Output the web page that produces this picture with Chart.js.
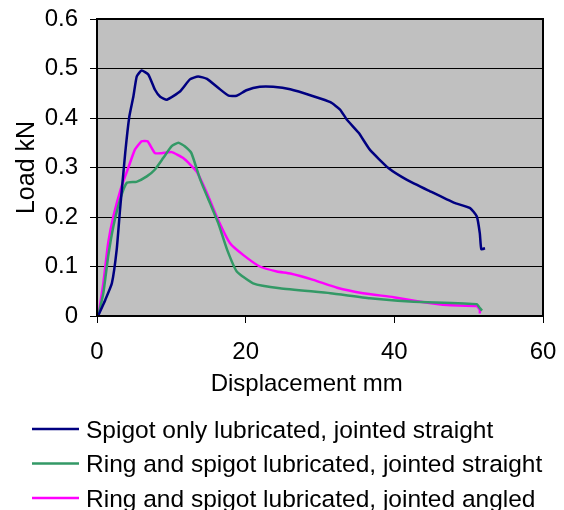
<!DOCTYPE html>
<html>
<head>
<meta charset="utf-8">
<script src="https://cdn.jsdelivr.net/npm/chart.js@4/dist/chart.umd.min.js"></script>
<style>
  html, body { margin: 0; padding: 0; background: #fff; }
  #wrap { width: 564px; height: 510px; position: relative; }
</style>
</head>
<body>
<div id="wrap"><canvas id="loadchart"></canvas></div>
<script>
// series names
const seriesNames = [
  'Spigot only lubricated, jointed straight',
  'Ring and spigot lubricated, jointed straight',
  'Ring and spigot lubricated, jointed angled'
];

// displacement (mm) / load (kN)
const spigotX = [0.2, 1.1, 2.0, 2.65, 3.1, 3.8, 4.35, 4.9, 5.35, 6.0, 6.9, 7.8, 8.5, 9.4, 11.2, 12.5, 13.6, 14.8, 16.3, 17.7, 18.8, 20.1, 21.9, 23.7, 26.0, 29.1, 31.4, 32.7, 33.6, 35.2, 36.7, 39.2, 41.7, 44.8, 48.0, 50.2, 51.1, 51.5, 51.7, 52.2];
const spigotY = [0.002, 0.032, 0.066, 0.134, 0.215, 0.33, 0.403, 0.444, 0.484, 0.496, 0.488, 0.457, 0.443, 0.437, 0.454, 0.478, 0.484, 0.479, 0.461, 0.445, 0.445, 0.456, 0.463, 0.463, 0.458, 0.444, 0.432, 0.417, 0.397, 0.370, 0.336, 0.299, 0.275, 0.252, 0.229, 0.218, 0.201, 0.167, 0.135, 0.137];

const ringX = [0.2, 0.85, 1.5, 2.2, 3.1, 4.0, 5.3, 6.7, 7.8, 8.9, 10.05, 10.95, 11.8, 12.7, 13.9, 15.2, 16.3, 17.5, 18.8, 21.0, 24.6, 31.4, 36.7, 42.6, 51.1, 51.5, 51.8];
const ringY = [0.002, 0.046, 0.12, 0.181, 0.235, 0.269, 0.271, 0.282, 0.296, 0.319, 0.343, 0.35, 0.343, 0.329, 0.275, 0.228, 0.188, 0.134, 0.09, 0.066, 0.056, 0.046, 0.036, 0.029, 0.024, 0.016, 0.011];

const angledX = [0.2, 0.85, 1.5, 2.2, 3.3, 4.2, 5.1, 6.0, 6.8, 7.8, 8.7, 10.05, 11.6, 13.4, 14.8, 16.3, 17.9, 19.7, 21.9, 24.2, 26.0, 29.1, 32.3, 35.8, 39.9, 43.5, 47.1, 51.1, 51.5, 51.5];
const angledY = [0.002, 0.066, 0.147, 0.201, 0.262, 0.299, 0.336, 0.353, 0.353, 0.329, 0.329, 0.331, 0.319, 0.292, 0.248, 0.194, 0.147, 0.123, 0.100, 0.090, 0.086, 0.073, 0.057, 0.046, 0.038, 0.029, 0.022, 0.020, 0.012, 0.005];

const colors = ['#000080', '#339966', '#FF00FF'];

function toPoints(xs, ys) {
  return xs.map((x, i) => ({ x: x, y: ys[i] }));
}

const FONT = 'Liberation Sans, Arial, sans-serif';

// grey plot area + black frame
const plotFrame = {
  id: 'plotFrame',
  beforeDraw(chart) {
    const { ctx, chartArea: a } = chart;
    ctx.save();
    ctx.fillStyle = '#C0C0C0';
    ctx.fillRect(a.left, a.top, a.right - a.left, a.bottom - a.top);
    ctx.restore();
  },
  afterDraw(chart) {
    const { ctx, chartArea: a } = chart;
    ctx.save();
    ctx.strokeStyle = '#000';
    ctx.lineWidth = 2;
    ctx.strokeRect(a.left, a.top, a.right - a.left, a.bottom - a.top);
    ctx.restore();
  }
};

// legend stacked on the left under the chart
const stackedLegend = {
  id: 'stackedLegend',
  afterDraw(chart) {
    const ctx = chart.ctx;
    const rows = [429, 463.5, 498];
    ctx.save();
    ctx.font = '24.5px ' + FONT;
    ctx.textBaseline = 'alphabetic';
    ctx.textAlign = 'left';
    chart.data.datasets.forEach((ds, i) => {
      ctx.strokeStyle = ds.borderColor;
      ctx.lineWidth = 2.5;
      ctx.beginPath();
      ctx.moveTo(32, rows[i]);
      ctx.lineTo(79, rows[i]);
      ctx.stroke();
      ctx.fillStyle = '#000';
      ctx.fillText(ds.label, 86, rows[i] + 8.5);
    });
    ctx.restore();
  }
};

new Chart(document.getElementById('loadchart'), {
  type: 'scatter',
  data: {
    datasets: [
      { label: seriesNames[0], data: toPoints(spigotX, spigotY), borderColor: colors[0] },
      { label: seriesNames[1], data: toPoints(ringX, ringY), borderColor: colors[1] },
      { label: seriesNames[2], data: toPoints(angledX, angledY), borderColor: colors[2] }
    ]
  },
  options: {
    responsive: true,
    maintainAspectRatio: false,
    animation: false,
    showLine: true,
    layout: { padding: { left: 0, top: 19, right: 21, bottom: 104 } },
    elements: {
      point: { radius: 0, hoverRadius: 0 },
      line: { borderWidth: 2.5, tension: 0.15, fill: false }
    },
    plugins: {
      legend: { display: false },
      tooltip: { enabled: false }
    },
    scales: {
      x: {
        type: 'linear',
        min: 0,
        max: 60,
        afterFit(scale) {
          scale.height = 90;
          scale.paddingLeft = 0;
          scale.paddingRight = 0;
        },
        ticks: { stepSize: 20, color: '#000', padding: 15, maxRotation: 0, font: { family: FONT, size: 24 } },
        grid: { drawOnChartArea: false, drawTicks: true, tickLength: 7, color: '#000', lineWidth: 1 },
        border: { display: true, color: '#000', width: 2 },
        title: { display: true, text: 'Displacement mm    ', color: '#000', padding: { top: 7, bottom: 7 }, font: { family: FONT, size: 24 } }
      },
      y: {
        min: 0,
        max: 0.6,
        afterFit(scale) {
          scale.width = 97;
          scale.paddingTop = 0;
          scale.paddingBottom = 0;
        },
        ticks: { stepSize: 0.1, color: '#000', padding: 12, font: { family: FONT, size: 24 } },
        grid: { drawTicks: true, tickLength: 7, color: '#000', lineWidth: 1 },
        border: { display: true, color: '#000', width: 2 },
        title: { display: true, text: 'Load kN', color: '#000', padding: { top: 12, bottom: 12 }, font: { family: FONT, size: 25 } }
      }
    }
  },
  plugins: [plotFrame, stackedLegend]
});
</script>
</body>
</html>
